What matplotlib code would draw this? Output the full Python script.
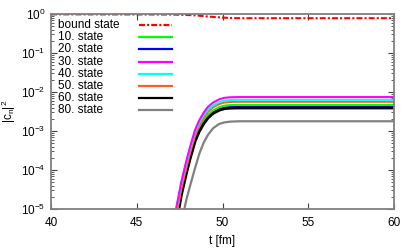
import numpy as np
import matplotlib
matplotlib.use('Agg')
import matplotlib.pyplot as plt
from matplotlib.lines import Line2D

plt.rcParams['font.family'] = ['Liberation Sans', 'DejaVu Sans']
plt.rcParams['mathtext.default'] = 'regular'
plt.rcParams['axes.unicode_minus'] = False
plt.rcParams['lines.scale_dashes'] = False

# bound state population
t_bound = [40, 47, 48, 48.5, 49, 49.5, 50, 50.5, 51, 60]
p_bound = [0.98, 0.97, 0.94, 0.92, 0.87, 0.84, 0.81, 0.79, 0.78, 0.78]

# continuum states, log10 of |c_n|^2 on a common time grid
t_grid = [46.9, 47.3, 47.6, 47.9, 48.1, 48.4, 48.65, 48.9, 49.15, 49.45,
          49.8, 50.1, 50.45, 51.0, 51.6, 52.5, 60]
log_10 = [-6.8, -5.30, -4.56, -4.00, -3.66, -3.20, -2.94, -2.74, -2.59, -2.47,
          -2.39, -2.35, -2.335, -2.33, -2.33, -2.33, -2.33]
log_20 = [-6.85, -5.35, -4.60, -4.05, -3.70, -3.24, -2.98, -2.79, -2.64, -2.52,
          -2.44, -2.40, -2.385, -2.38, -2.38, -2.38, -2.38]
log_30 = [-6.4, -4.98, -4.30, -3.75, -3.42, -2.97, -2.72, -2.53, -2.38, -2.27,
          -2.19, -2.15, -2.135, -2.13, -2.13, -2.13, -2.13]
log_40 = [-6.5, -5.02, -4.34, -3.80, -3.47, -3.02, -2.78, -2.59, -2.45, -2.34,
          -2.26, -2.22, -2.205, -2.20, -2.20, -2.20, -2.20]
log_50 = [-6.7, -5.20, -4.48, -3.93, -3.58, -3.12, -2.86, -2.66, -2.51, -2.39,
          -2.31, -2.27, -2.255, -2.25, -2.25, -2.25, -2.25]
log_60 = [-6.9, -5.40, -4.65, -4.08, -3.73, -3.27, -3.01, -2.82, -2.67, -2.55,
          -2.47, -2.43, -2.415, -2.41, -2.41, -2.41, -2.41]
log_80 = [-8.0, -6.30, -5.35, -4.75, -4.42, -3.95, -3.58, -3.30, -3.10, -2.93,
          -2.82, -2.78, -2.76, -2.75, -2.75, -2.75, -2.75]

labels = ['bound state', '10. state', '20. state', '30. state', '40. state',
          '50. state', '60. state', '80. state']
colors = ['#ff0000', '#00ff00', '#0000ff', '#ff00ff', '#00ffff',
          '#ff6020', '#000000', '#808080']
states = [log_10, log_20, log_30, log_40, log_50, log_60, log_80]
widths = [1.5, 1.5, 1.5, 1.5, 1.5, 2.0, 1.6]

fig = plt.figure(figsize=(4.15, 2.49), dpi=100)
ax = fig.add_axes([51 / 415, 1 - 209 / 249, 343 / 415, 195 / 249])

red_dash = (4.3, 1.5, 1.5, 1.5)
ax.plot(t_bound, p_bound, color=colors[0], lw=1.5, dashes=red_dash)
# draw in an order so that black sits over blue, as in the picture
order = [6, 1, 0, 5, 4, 3, 2]
for i in order:
    ax.plot(t_grid, 10.0 ** np.array(states[i]), color=colors[i + 1], lw=widths[i])

ax.set_yscale('log')
ax.set_xlim(40, 60)
ax.set_ylim(1e-5, 1)
ax.set_xticks([40, 45, 50, 55, 60])
ax.set_xlabel('t [fm]', fontsize=8.5, labelpad=4)
ax.set_ylabel(r'$|c_n|^2$', fontsize=8.5, labelpad=2)

for s in ax.spines.values():
    s.set_color('#808080')
    s.set_linewidth(1.3)
ax.tick_params(which='both', direction='in', top=True, right=True,
               labelsize=8.5, color='#404040')
ax.tick_params(which='major', length=4, width=0.8)
ax.tick_params(which='minor', length=2, width=0.6)
ax.tick_params(axis='x', pad=6)
ax.tick_params(axis='y', pad=4)

# key: text on the left, sample line on the right, no frame
for k, (lab, col) in enumerate(zip(labels, colors)):
    y = 1 - (11 + 12.2 * k) / 195
    ax.text(7 / 343, y, lab, transform=ax.transAxes, fontsize=8.5,
            va='center', ha='left')
    ln = Line2D([88 / 343, 121 / 343], [y, y], transform=ax.transAxes,
                color=col, lw=1.6 if k < 7 else 1.6)
    if k == 0:
        ln.set_dashes(red_dash)
    ax.add_line(ln)

fig.savefig('out.png', dpi=100)
